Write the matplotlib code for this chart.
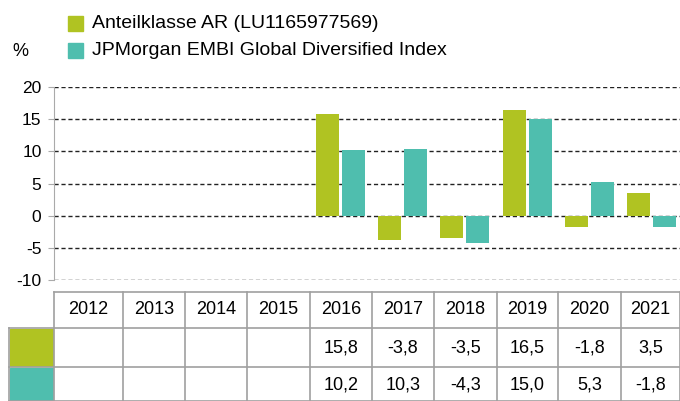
import matplotlib.pyplot as plt
import numpy as np

plt.rcParams['font.family'] = ['Liberation Sans', 'DejaVu Sans']

# Data
years = ['2012', '2013', '2014', '2015', '2016', '2017', '2018', '2019', '2020', '2021']
fund = [None, None, None, None, 15.8, -3.8, -3.5, 16.5, -1.8, 3.5]
index = [None, None, None, None, 10.2, 10.3, -4.3, 15.0, 5.3, -1.8]
fund_label = 'Anteilklasse AR (LU1165977569)'
index_label = 'JPMorgan EMBI Global Diversified Index'
green = '#b0c322'
teal = '#4fbeae'

W, H = 680, 401
fig = plt.figure(figsize=(W / 100, H / 100), dpi=100)


def fx(px):
    return px / W


def fy(py):
    return 1 - py / H


# Bar chart
ax = fig.add_axes([fx(54), fy(280), fx(680 - 54), fy(87) - fy(280)])
x = np.arange(len(years))
fv = np.array([np.nan if v is None else v for v in fund])
iv = np.array([np.nan if v is None else v for v in index])
ax.bar(x - 0.21, fv, width=0.37, color=green, zorder=3)
ax.bar(x + 0.21, iv, width=0.37, color=teal, zorder=3)
ax.set_ylim(-10, 20)
ax.set_xlim(-0.606, 9.458)
ax.set_yticks(range(-10, 21, 5))
ax.set_yticklabels([str(t) for t in range(-10, 21, 5)], fontsize=12.5)
ax.set_xticks([])
for s in ['top', 'right', 'bottom']:
    ax.spines[s].set_visible(False)
ax.spines['left'].set_color('#aaaaaa')
ax.tick_params(axis='y', length=4, color='#aaaaaa', pad=5)
for t in range(-10, 21, 5):
    ax.axhline(t, color='#222222', lw=1.0, ls=(0, (3, 2)), zorder=2)
ax.patch.set_alpha(0)

# % label and legend
fig.text(fx(20), fy(52), '%', fontsize=13, ha='center', va='center')
for i, (lab, col) in enumerate([(fund_label, green), (index_label, teal)]):
    yc = 23.5 + i * 27
    fig.patches.append(plt.Rectangle((fx(68), fy(yc + 7.5)), fx(15), fy(0) - fy(15),
                                     transform=fig.transFigure, color=col))
    fig.text(fx(92), fy(yc), lab, fontsize=14, ha='left', va='center')

# Table
tab = fig.add_axes([0, 0, 1, 1])
tab.set_xlim(0, W)
tab.set_ylim(H, 0)
tab.axis('off')
col_edges = [54, 123, 185, 247, 310, 372, 434, 497, 558, 621, 680]
row_edges = [292, 328, 367, 401]
lc = '#a0a0a0'
for r in row_edges:
    tab.plot([54 if r == 292 else 9, 680], [r, r], color=lc, lw=1.2)
for c in col_edges:
    tab.plot([c, c], [292, 401], color=lc, lw=1.2)
tab.plot([9, 9], [328, 401], color=lc, lw=1.2)
tab.add_patch(plt.Rectangle((9.6, 328.6), 43.8, 37.8, color=green))
tab.add_patch(plt.Rectangle((9.6, 367.6), 43.8, 33.4, color=teal))


def fmt(v):
    return '' if v is None else f'{v:.1f}'.replace('.', ',')


for i, yr in enumerate(years):
    cx = (col_edges[i] + col_edges[i + 1]) / 2
    tab.text(cx, 310, yr, fontsize=13, ha='center', va='center')
    tab.text(cx, 348, fmt(fund[i]), fontsize=13, ha='center', va='center')
    tab.text(cx, 385, fmt(index[i]), fontsize=13, ha='center', va='center')

plt.savefig('out.png', dpi=100)
